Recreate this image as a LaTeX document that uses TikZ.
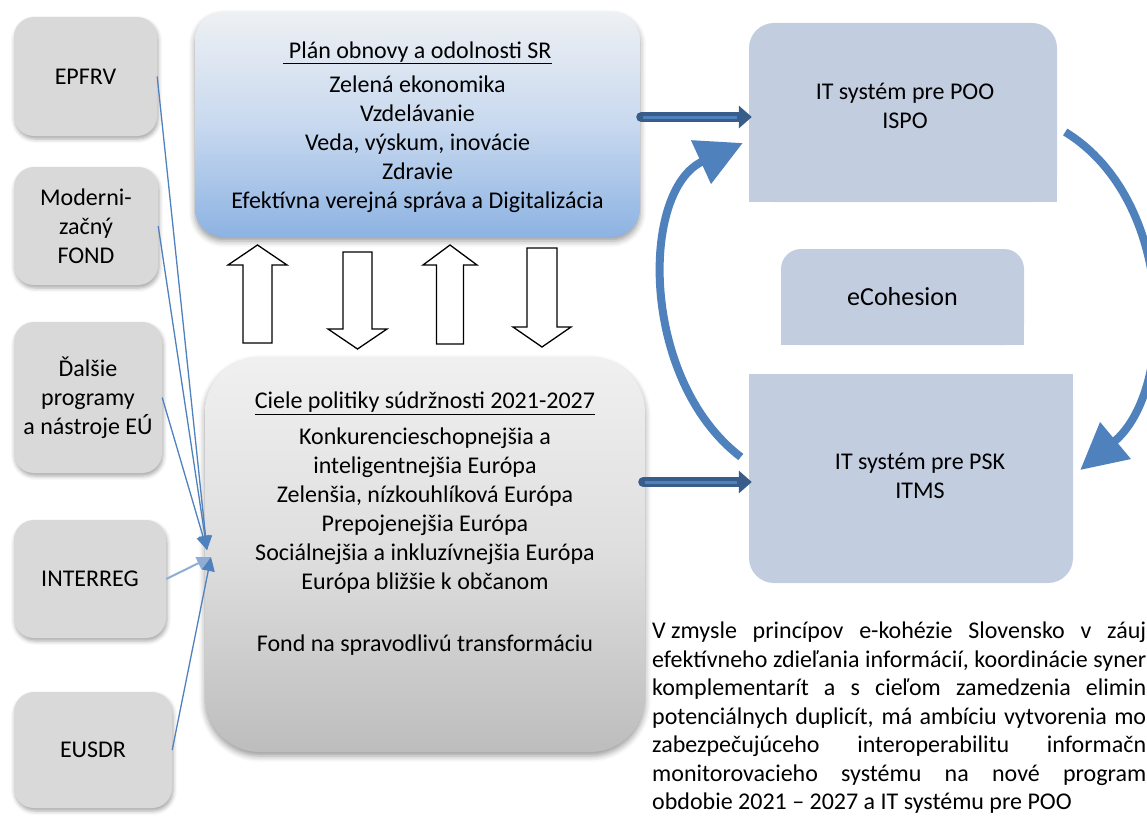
\documentclass[tikz,border=0pt]{standalone}
\usepackage{fontspec}
\setmainfont{Carlito}
\usetikzlibrary{arrows.meta,calc,shadows.blur}
\definecolor{srcgray}{HTML}{D9D9D9}
\definecolor{itblue}{HTML}{C3CDE0}
\definecolor{linkblue}{HTML}{4F81BD}
\definecolor{navyblue}{HTML}{385D8A}
\definecolor{plantop}{HTML}{EEF0F3}
\definecolor{planmid}{HTML}{C8D9EF}
\definecolor{planbot}{HTML}{8DB3E2}
\definecolor{cieltop}{HTML}{F0F0F0}
\definecolor{cielmid}{HTML}{DEDEDE}
\definecolor{cielbot}{HTML}{BDBDBD}
\newcommand{\mytxt}{\fontsize{24}{29}\selectfont}
\newcommand{\myparatxt}{\fontsize{24}{28.5}\selectfont}
\newcommand{\mybig}{\fontsize{26}{30}\selectfont}
\begin{document}
\begin{tikzpicture}[x=1pt,y=-1pt,
  srcbox/.style={fill=srcgray, rounded corners=20pt, align=center, font=\mytxt, inner sep=0pt,
     blur shadow={shadow xshift=1pt, shadow yshift=-3pt, shadow blur radius=4pt, shadow opacity=35}},
  itbox/.style={fill=itblue, inner sep=0pt},
  itlbl/.style={align=center, font=\mytxt, inner sep=0pt},
  bigbox/.style={inner sep=0pt, blur shadow={shadow xshift=0pt, shadow yshift=-4pt, shadow blur radius=6pt, shadow opacity=40}},
  feed/.style={draw=linkblue, line width=1.3pt, -{Triangle[length=14pt,width=13pt]}},
  flow/.style={line width=8pt, draw=linkblue, -{Triangle[length=46pt,width=46pt]}},
  blockarr/.style={draw=black, line width=1.3pt, fill=white, line join=miter},
  navyarr/.style={draw=navyblue, line width=10pt, line cap=round, -{Triangle[length=13pt,width=22pt]}},
  navyin/.style={draw=linkblue, line width=3pt},
]
\useasboundingbox (0,0) rectangle (1147,816);

% source boxes
\node[srcbox, minimum width=143pt, minimum height=119pt] (epfrv) at (85.5,76.5) {EPFRV};
\node[srcbox, minimum width=144pt, minimum height=118pt] (modern) at (86,226) {Moderni-\\začný\\FOND};
\node[srcbox, minimum width=148pt, minimum height=151pt] (dalsie) at (88,397.5) {Ďalšie\\programy\\a nástroje EÚ};
\node[srcbox, minimum width=152pt, minimum height=118pt] (interreg) at (90,579) {INTERREG};
\node[srcbox, minimum width=158pt, minimum height=116pt] (eusdr) at (93,750) {EUSDR};

% main boxes
\node[bigbox, rounded corners=28pt, minimum width=445pt, minimum height=225pt,
      top color=plantop, bottom color=planbot, middle color=planmid] (plan) at (417.5,124.5) {};
\node[align=center, font=\mytxt, inner sep=0pt] (plantxt) at (417.5,127)
  {\underline{\ Plán obnovy a odolnosti SR}\\[5pt] Zelená ekonomika\\ Vzdelávanie\\ Veda, výskum, inovácie\\ Zdravie\\ Efektívna verejná správa a Digitalizácia};

\node[bigbox, rounded corners=55pt, minimum width=440pt, minimum height=395pt,
      top color=cieltop, bottom color=cielbot, middle color=cielmid] (ciele) at (425,554.5) {};
\node[align=center, font=\mytxt, inner sep=0pt] (cieltxt) at (425,524)
  {\underline{Ciele politiky súdržnosti 2021-2027}\\[7pt] Konkurencieschopnejšia a\\ inteligentnejšia Európa\\ Zelenšia, nízkouhlíková Európa\\ Prepojenejšia Európa\\ Sociálnejšia a inkluzívnejšia Európa\\ Európa bližšie k občanom\\[33pt] Fond na spravodlivú transformáciu};

% block arrows
\draw[blockarr] (243,343) -- (243,265) -- (228,265) -- (257.5,245) -- (287,265) -- (272,265) -- (272,343) -- cycle;
\draw[blockarr] (343,252) -- (372,252) -- (372,329) -- (387,329) -- (357.5,349) -- (328,329) -- (343,329) -- cycle;
\draw[blockarr] (436.5,344) -- (436.5,265) -- (423,265) -- (450,245) -- (477,265) -- (463.5,265) -- (463.5,344) -- cycle;
\draw[blockarr] (527,248) -- (557,248) -- (557,327) -- (571,327) -- (542,347) -- (513,327) -- (527,327) -- cycle;

% IT boxes
\node[itbox, rounded corners=25pt, minimum width=308pt, minimum height=179pt] (ispo) at (903,112.5) {};
\fill[itblue] (ispo.south west) rectangle ++(30,-30);
\fill[itblue] (ispo.south east) rectangle ++(-30,-30);
\node[itlbl] (ispolbl) at (905,106) {IT systém pre POO\\ISPO};

\node[itbox, rounded corners=20pt, minimum width=243pt, minimum height=96pt, font=\mybig] (ecoh) at (902.5,297) {eCohesion};
\fill[itblue] (ecoh.south west) rectangle ++(25,-25);
\fill[itblue] (ecoh.south east) rectangle ++(-25,-25);

\node[itbox, rounded corners=25pt, minimum width=324pt, minimum height=209pt] (itms) at (911,478.5) {};
\fill[itblue] (itms.north west) rectangle ++(30,30);
\fill[itblue] (itms.north east) rectangle ++(-30,30);
\node[itlbl] (itmslbl) at (920,476) {IT systém pre PSK\\ITMS};

% navy arrows
\draw[navyarr] ($(plan.east)+(1,-7.5)$) -- ($(ispo.west)+(3,4.5)$);
\draw[navyin] ($(plan.east)+(3,-7.5)$) -- ($(ispo.west)+(-12,4.5)$);
\draw[navyarr] ($(ciele.east)+(-2,-72.5)$) -- ($(itms.west)+(3,3.5)$);
\draw[navyin] ($(ciele.east)+(0,-72.5)$) -- ($(itms.west)+(-12,3.5)$);

% cycle arcs
\draw[flow] ($(itms.west)+(-8,-21.5)$) .. controls (640,380) and (640,190) .. ($(ispo.west)+(-6,30.5)$);
\draw[flow] ($(ispo.east)+(8,19.5)$) .. controls (1176,200) and (1176,390) .. ($(itms.east)+(7,-8.5)$);

% feeders
\coordinate (hub) at (207,550);
\coordinate (hubb) at (211,557);
\draw[feed] (epfrv.east) -- (hub);
\draw[feed] (modern.east) -- (hub);
\draw[feed] (dalsie.east) -- (hub);
\draw[feed, draw=linkblue!65, line width=2pt] (interreg.east) -- (hubb);
\draw[feed] (eusdr.east) -- (hubb);

% paragraph (cut at the right edge as in the reference)
\node[anchor=north west, inner sep=0pt, align=left, font=\myparatxt] (para) at (652,622)
 {\makebox[494pt][s]{\mbox{V zmysle} princípov e-kohézie Slovensko v záuj}\\
  \makebox[494pt][s]{efektívneho zdieľania informácií, koordinácie syner}\\
  \makebox[494pt][s]{komplementarít a s cieľom zamedzenia elimin}\\
  \makebox[494pt][s]{potenciálnych duplicít, má ambíciu vytvorenia mo}\\
  \makebox[494pt][s]{zabezpečujúceho interoperabilitu informačn}\\
  \makebox[494pt][s]{monitorovacieho systému na nové program}\\
  obdobie 2021 – 2027 a IT systému pre POO};
\end{tikzpicture}
\end{document}
